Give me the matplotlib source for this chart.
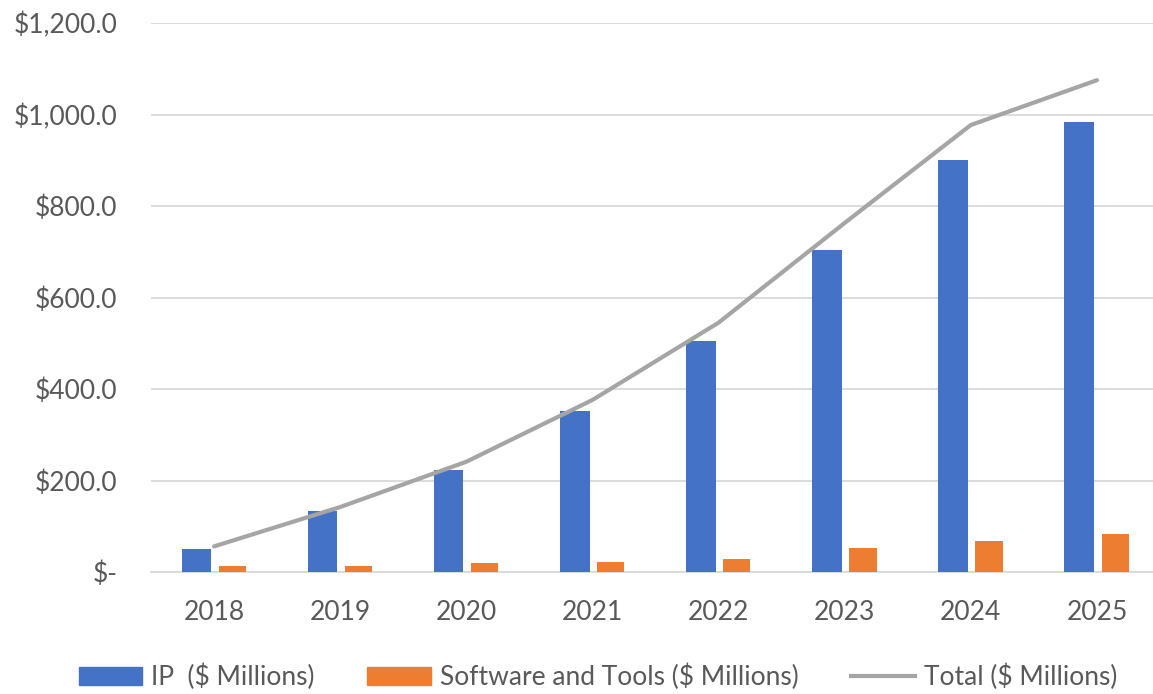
import matplotlib
matplotlib.use("Agg")
import matplotlib.pyplot as plt
import numpy as np
from matplotlib.lines import Line2D
from matplotlib.patches import Patch

years = ["2018", "2019", "2020", "2021", "2022", "2023", "2024", "2025"]
ip_values = [50, 134, 223, 353, 506, 703, 900, 983]
sw_values = [13, 13, 20, 22, 28, 52, 68, 83]
total_values = [56, 142, 241, 376, 545, 763, 977, 1075]
y_ticks = [0, 200, 400, 600, 800, 1000, 1200]

plt.rcParams['font.family'] = ['Lato', 'DejaVu Sans']

W, H = 1153, 694
fig = plt.figure(figsize=(W / 100, H / 100), dpi=100)
left = 151 / W
bottom = (H - 572) / H
top = (H - 23) / H
ax = fig.add_axes([left, bottom, 1009 / W, top - bottom])

x = np.arange(len(years))
bw = 0.235
ax.bar(x - 0.14, ip_values, width=bw, color="#4472C4", zorder=3)
ax.bar(x + 0.145, sw_values, width=bw * 0.92, color="#ED7D31", zorder=3)
ax.plot(x, total_values, color="#A5A5A5", lw=3.0, solid_capstyle="round", zorder=4)

ax.set_xlim(-0.5, 7.5)
ax.set_ylim(0, 1200)
ax.set_yticks(y_ticks)
ax.set_yticklabels(["$-" if v == 0 else f"${v:,.1f}" for v in y_ticks])
ax.set_xticks(x)
ax.set_xticklabels(years)
ax.grid(axis="y", color="#D9D9D9", lw=1.3, zorder=0)
for s in ["top", "right", "left"]:
    ax.spines[s].set_visible(False)
ax.spines["bottom"].set_color("#D9D9D9")
ax.spines["bottom"].set_linewidth(1.3)
ax.tick_params(axis="both", length=0, labelsize=19, labelcolor="#595959")
ax.tick_params(axis="y", pad=24)
ax.tick_params(axis="x", pad=20)

handles = [
    Patch(color="#4472C4", label="IP  ($ Millions)"),
    Patch(color="#ED7D31", label="Software and Tools ($ Millions)"),
    Line2D([0], [0], color="#A5A5A5", lw=3.0, label="Total ($ Millions)"),
]
fig.legend(handles=handles, loc="center", bbox_to_anchor=(598 / W, (H - 677) / H),
           ncol=3, frameon=False, fontsize=19, labelcolor="#595959",
           handlelength=2.4, handleheight=0.7, handletextpad=0.35, columnspacing=2.0)

fig.savefig("out.png", dpi=100, facecolor="white")
